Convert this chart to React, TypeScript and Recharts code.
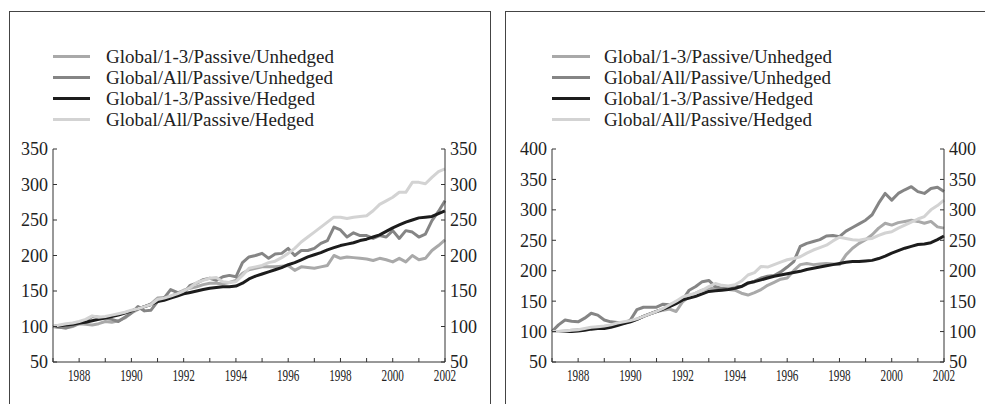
import React from "react";
import { LineChart, Line, XAxis, YAxis, Legend } from "recharts";

// quarterly index levels, 1987Q1 .. 2002Q1 (base 100)
const quarters = Array.from({ length: 61 }, (_, i) => 1987 + i / 4);
const yearTicks = Array.from({ length: 16 }, (_, i) => 1987 + i);

const seriesNames = [
    "Global/1-3/Passive/Unhedged",
    "Global/All/Passive/Unhedged",
    "Global/1-3/Passive/Hedged",
    "Global/All/Passive/Hedged",
];
const seriesColors = ["#a9a9a9", "#858585", "#1c1c1c", "#d3d3d3"];

// left panel
const leftShortUnhedged = [
    100, 99, 98, 100, 104, 103, 102, 104, 107, 106, 108, 112, 119, 124, 128, 132,
    140, 141, 142, 147, 151, 154, 156, 159, 161, 161, 160, 162, 165, 175, 180, 182,
    184, 184, 184, 185, 186, 179, 184, 183, 182, 184, 186, 200, 196, 198, 197, 196,
    195, 193, 196, 194, 191, 196, 191, 200, 194, 196, 207, 214, 222,
];
const leftAllUnhedged = [
    100, 99, 98, 101, 104, 108, 114, 113, 112, 110, 107, 113, 119, 128, 122, 123,
    135, 140, 152, 148, 147, 158, 161, 166, 168, 165, 170, 172, 170, 190, 198, 200,
    203, 196, 202, 203, 210, 200, 207, 207, 210, 217, 221, 240, 236, 226, 232, 228,
    228, 224, 228, 226, 235, 224, 235, 233, 226, 230, 249, 262, 277,
];
const leftShortHedged = [
    100, 101, 102, 103, 105, 106, 108, 110, 112, 114, 116, 119, 122, 125, 128, 131,
    135, 137, 140, 143, 146, 148, 150, 152, 154, 155, 156, 156, 157, 161, 167, 171,
    174, 177, 180, 183, 187, 190, 194, 198, 201, 204, 208, 211, 214, 216, 218, 221,
    223, 226, 229, 234, 239, 243, 247, 250, 253, 254, 255, 259, 263,
];
const leftAllHedged = [
    100, 102, 104, 105, 107, 110, 115, 113, 114, 116, 118, 120, 123, 125, 128, 131,
    138, 140, 143, 146, 150, 155, 162, 165, 168, 169, 163, 162, 163, 172, 182, 184,
    186, 190, 192, 197, 203, 210, 219, 226, 233, 240, 247, 254, 254, 252, 254, 255,
    256, 263, 272, 277, 282, 289, 289, 303, 303, 301, 310, 318, 322,
];

// right panel
const rightShortUnhedged = [
    100, 100, 101, 102, 103, 104, 106, 107, 108, 110, 112, 114, 116, 120, 125, 129,
    133, 135, 137, 133, 149, 158, 163, 168, 171, 171, 170, 169, 168, 163, 160, 164,
    169, 176, 181, 186, 188, 200, 210, 212, 210, 211, 212, 211, 210, 226, 237, 245,
    251, 259, 270, 278, 275, 279, 281, 283, 281, 278, 281, 272, 270,
];
const rightAllUnhedged = [
    100, 111, 119, 117, 116, 122, 130, 127, 119, 116, 115, 114, 119, 136, 140, 140,
    140, 145, 144, 148, 152, 168, 174, 182, 184, 174, 171, 172, 174, 174, 179, 183,
    188, 191, 192, 198, 206, 215, 240, 245, 248, 251, 257, 258, 256, 265, 271, 277,
    283, 292, 311, 327, 316, 327, 333, 338, 330, 327, 335, 337, 330,
];
const rightShortHedged = [
    100, 100, 100, 100, 101, 102, 104, 105, 105, 107, 110, 113, 116, 120, 125, 129,
    133, 137, 141, 146, 152, 155, 158, 162, 166, 167, 168, 169, 171, 174, 180, 182,
    185, 188, 191, 193, 195, 197, 199, 202, 204, 206, 208, 210, 212, 214, 215, 215,
    216, 217, 220, 224, 229, 233, 237, 240, 243, 244, 246, 251, 257,
];
const rightAllHedged = [
    100, 100, 101, 102, 103, 105, 107, 108, 109, 111, 114, 116, 118, 121, 125, 129,
    133, 138, 144, 150, 157, 160, 163, 168, 174, 179, 176, 175, 177, 183, 193, 197,
    207, 206, 210, 214, 218, 220, 223, 229, 234, 238, 242, 249, 255, 253, 251, 250,
    252, 253, 258, 262, 264, 270, 275, 280, 285, 289, 300, 307, 316,
];

const leftTicks = [50, 100, 150, 200, 250, 300, 350];
const rightTicks = [50, 100, 150, 200, 250, 300, 350, 400];

const FONT = "'Liberation Serif', 'Times New Roman', serif";
const INK = "#222";

const buildRows = (series: number[][]) =>
    quarters.map((t, i) => {
        const row: Record<string, number> = { t };
        series.forEach((s, k) => (row[`s${k}`] = s[i]));
        return row;
    });

const YearTick = (props: any) => {
    const { x, y, payload } = props;
    if (payload.value % 2 !== 0) return <g />;
    return (
        <g transform={`translate(${x},${y})`}>
            <text y={23} textAnchor="middle" transform="scale(0.7,1)" fontSize={16} fontFamily={FONT} fill={INK}>
                {payload.value}
            </text>
        </g>
    );
};

// legend keeps the series order (recharts would sort it by name)
const LegendRows = ({ swatch, gap }: { swatch: number; gap: number }) => (
    <div style={{ fontFamily: FONT, fontSize: 19, color: INK }}>
        {seriesNames.map((name, k) => (
            <div key={name} style={{ display: "flex", alignItems: "center", height: 21, whiteSpace: "nowrap" }}>
                <div style={{ width: swatch, height: 3, background: seriesColors[k], marginRight: gap }} />
                <span>{name}</span>
            </div>
        ))}
    </div>
);

interface PanelProps {
    series: number[][];
    ticks: number[];
    left: number;
    width: number;
    plotLeft: number;
    plotRight: number;
    swatch: number;
    gap: number;
}

const Panel: React.FC<PanelProps> = ({ series, ticks, left, width, plotLeft, plotRight, swatch, gap }) => {
    const data = buildRows(series);
    const domain = [ticks[0], ticks[ticks.length - 1]];
    const axisStyle = {
        domain,
        ticks,
        interval: 0 as const,
        tickSize: -4,
        tickMargin: 9,
        tick: { fontSize: 18, fill: INK, fontFamily: FONT },
        axisLine: { stroke: "#333" },
        tickLine: { stroke: "#333" },
    };
    return (
        <div style={{ position: "absolute", left, top: 0 }}>
            <LineChart width={width} height={404} data={data} margin={{ top: 149, right: 0, bottom: 12, left: 0 }}>
                <XAxis
                    dataKey="t"
                    type="number"
                    domain={[1987, 2002]}
                    ticks={yearTicks}
                    interval={0}
                    height={30}
                    tickSize={-4}
                    tickMargin={0}
                    tick={<YearTick />}
                    axisLine={{ stroke: "#333" }}
                    tickLine={{ stroke: "#333" }}
                />
                <YAxis yAxisId="l" width={plotLeft} {...axisStyle} />
                <YAxis yAxisId="r" orientation="right" width={width - plotRight} {...axisStyle} />
                <Legend
                    layout="horizontal"
                    align="center"
                    verticalAlign="middle"
                    wrapperStyle={{ top: 46, left: plotLeft, width: 400, height: 84 }}
                    content={() => <LegendRows swatch={swatch} gap={gap} />}
                />
                {series.map((_, k) => (
                    <Line
                        key={k}
                        yAxisId="l"
                        type="linear"
                        dataKey={`s${k}`}
                        name={seriesNames[k]}
                        stroke={seriesColors[k]}
                        strokeWidth={3}
                        strokeLinejoin="round"
                        dot={false}
                        isAnimationActive={false}
                    />
                ))}
                {/* invisible copy so the right-hand scale is drawn */}
                <Line
                    yAxisId="r"
                    dataKey="s2"
                    stroke="none"
                    legendType="none"
                    dot={false}
                    activeDot={false}
                    isAnimationActive={false}
                />
            </LineChart>
        </div>
    );
};

export default function App() {
    return (
        <div style={{ position: "absolute", left: 0, top: 0, width: 985, height: 404, background: "#fff", overflow: "hidden" }}>
            <div style={{ position: "absolute", left: 9, top: 11, width: 480, height: 420, border: "1.5px solid #444" }} />
            <div style={{ position: "absolute", left: 505, top: 11, width: 520, height: 420, border: "1.5px solid #444" }} />
            <Panel
                series={[leftShortUnhedged, leftAllUnhedged, leftShortHedged, leftAllHedged]}
                ticks={leftTicks}
                left={0}
                width={490}
                plotLeft={53}
                plotRight={445}
                swatch={37}
                gap={16}
            />
            <Panel
                series={[rightShortUnhedged, rightAllUnhedged, rightShortHedged, rightAllHedged]}
                ticks={rightTicks}
                left={500}
                width={485}
                plotLeft={52}
                plotRight={444}
                swatch={38}
                gap={14}
            />
        </div>
    );
}
